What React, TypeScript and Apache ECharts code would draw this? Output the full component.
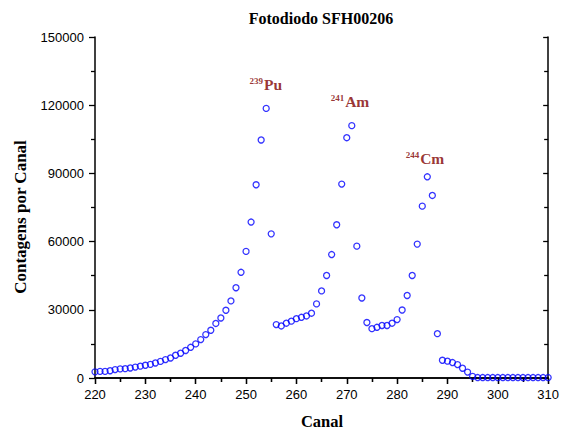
import React, { useEffect, useRef } from "react";
import * as echarts from "echarts";

const channels: number[] = [];
for (let c = 220; c <= 310; c++) channels.push(c);

const counts: number[] = [
  2700, 2900, 2900, 3200, 3700, 4000, 4100, 4400, 4800, 5200,
  5600, 6000, 6600, 7300, 8100, 8800, 10000, 10900, 12100, 13500,
  15000, 16900, 19100, 21000, 24000, 26400, 29800, 33900, 39700, 46500,
  55700, 68600, 85000, 104700, 118600, 63400, 23500, 22900, 24100, 25000,
  26100, 26700, 27300, 28500, 32600, 38300, 45100, 54300, 67400, 85300,
  105700, 111000, 58000, 35200, 24400, 21700, 22300, 23100, 23100, 24100,
  25700, 29900, 36300, 45100, 58900, 75600, 88500, 80300, 19500, 7800,
  7400, 6800, 5900, 4300, 2600, 700, 200, 200, 200, 200,
  200, 200, 200, 200, 200, 200, 200, 200, 200, 200,
  200,
];

const xTicks = { min: 220, max: 310, interval: 10 };
const yTicks = { min: 0, max: 150000, interval: 30000 };

const peakIsotopes = ["239", "241", "244"];
const peakElements = ["Pu", "Am", "Cm"];
const peakLabelX = [250.7, 266.8, 281.7];
const peakLabelY = [125800, 117900, 93200];

const titleText = "Fotodiodo SFH00206";
const xName = "Canal";
const yName = "Contagens por Canal";

export default function App() {
  const ref = useRef<HTMLDivElement>(null);

  useEffect(() => {
    if (!ref.current) return;
    const chart = echarts.init(ref.current, undefined, { renderer: "svg" });
    const labelFont = "'Liberation Sans', Arial, sans-serif";
    const serif = "'Liberation Serif', 'Times New Roman', serif";

    const axisLine = { show: true, lineStyle: { color: "#000", width: 1.5 } };
    const tickStyle = { color: "#000", width: 1.3 };

    chart.setOption({
      animation: false,
      backgroundColor: "#fff",
      grid: { left: 95, right: 12, top: 37, bottom: 52, containLabel: false },
      xAxis: [
        {
          type: "value",
          position: "bottom",
          ...xTicks,
          axisLine,
          axisTick: { show: true, inside: false, length: 6, lineStyle: tickStyle },
          minorTick: { show: true, splitNumber: 2, length: 4, lineStyle: tickStyle },
          axisLabel: { margin: 10, fontFamily: labelFont, fontSize: 13, color: "#000" },
          splitLine: { show: false },
        },
        {
          type: "value",
          position: "top",
          ...xTicks,
          axisLine,
          axisTick: { show: true, inside: true, length: 6, lineStyle: tickStyle },
          minorTick: { show: true, splitNumber: 2, length: 4, lineStyle: tickStyle },
          axisLabel: { show: false },
          splitLine: { show: false },
        },
      ],
      yAxis: [
        {
          type: "value",
          position: "left",
          ...yTicks,
          axisLine,
          axisTick: { show: true, inside: false, length: 6, lineStyle: tickStyle },
          minorTick: { show: true, splitNumber: 2, length: 4, lineStyle: tickStyle },
          axisLabel: {
            margin: 11,
            fontFamily: labelFont,
            fontSize: 13,
            color: "#000",
            formatter: (v: number) => String(v),
          },
          splitLine: { show: false },
        },
        {
          type: "value",
          position: "right",
          ...yTicks,
          axisLine,
          axisTick: { show: true, inside: true, length: 5, lineStyle: tickStyle },
          minorTick: { show: true, splitNumber: 2, length: 4, lineStyle: tickStyle },
          axisLabel: { show: false },
          splitLine: { show: false },
        },
      ],
      graphic: [
        {
          type: "text",
          x: 321,
          y: 18,
          style: {
            text: titleText,
            fontFamily: serif,
            fontWeight: "bold",
            fontSize: 16,
            fill: "#000",
            align: "center",
            verticalAlign: "middle",
          },
        },
        {
          type: "text",
          x: 322,
          y: 421,
          style: {
            text: xName,
            fontFamily: serif,
            fontWeight: "bold",
            fontSize: 16.5,
            fill: "#000",
            align: "center",
            verticalAlign: "middle",
          },
        },
        {
          type: "text",
          x: 20,
          y: 217,
          rotation: Math.PI / 2,
          style: {
            text: yName,
            fontFamily: serif,
            fontWeight: "bold",
            fontSize: 17,
            fill: "#000",
            align: "center",
            verticalAlign: "middle",
          },
        },
      ],
      series: [
        {
          type: "scatter",
          xAxisIndex: 0,
          yAxisIndex: 0,
          data: channels.map((c, i) => [c, counts[i]]),
          symbol: "circle",
          symbolSize: 6,
          clip: false,
          itemStyle: { color: "rgba(0,0,0,0)", borderColor: "#0000ff", borderWidth: 1.3 },
        },
        {
          type: "scatter",
          xAxisIndex: 0,
          yAxisIndex: 0,
          symbolSize: 0,
          silent: true,
          data: peakElements.map((el, i) => ({
            value: [peakLabelX[i], peakLabelY[i]],
            label: {
              show: true,
              position: "inside",
              align: "left",
              verticalAlign: "bottom",
              formatter: `{sup|${peakIsotopes[i]}}{el|${el}}`,
              rich: {
                sup: {
                  fontFamily: serif,
                  fontWeight: "bold",
                  fontSize: 9,
                  color: "#800000",
                  verticalAlign: "top",
                  padding: [0, 1, 7, 0],
                },
                el: {
                  fontFamily: serif,
                  fontWeight: "bold",
                  fontSize: 15.5,
                  color: "#800000",
                  verticalAlign: "bottom",
                },
              },
            },
          })),
        },
      ],
    });

    return () => chart.dispose();
  }, []);

  return (
    <div
      ref={ref}
      style={{ position: "fixed", left: 0, top: 0, width: 562, height: 430, background: "#fff" }}
    />
  );
}
